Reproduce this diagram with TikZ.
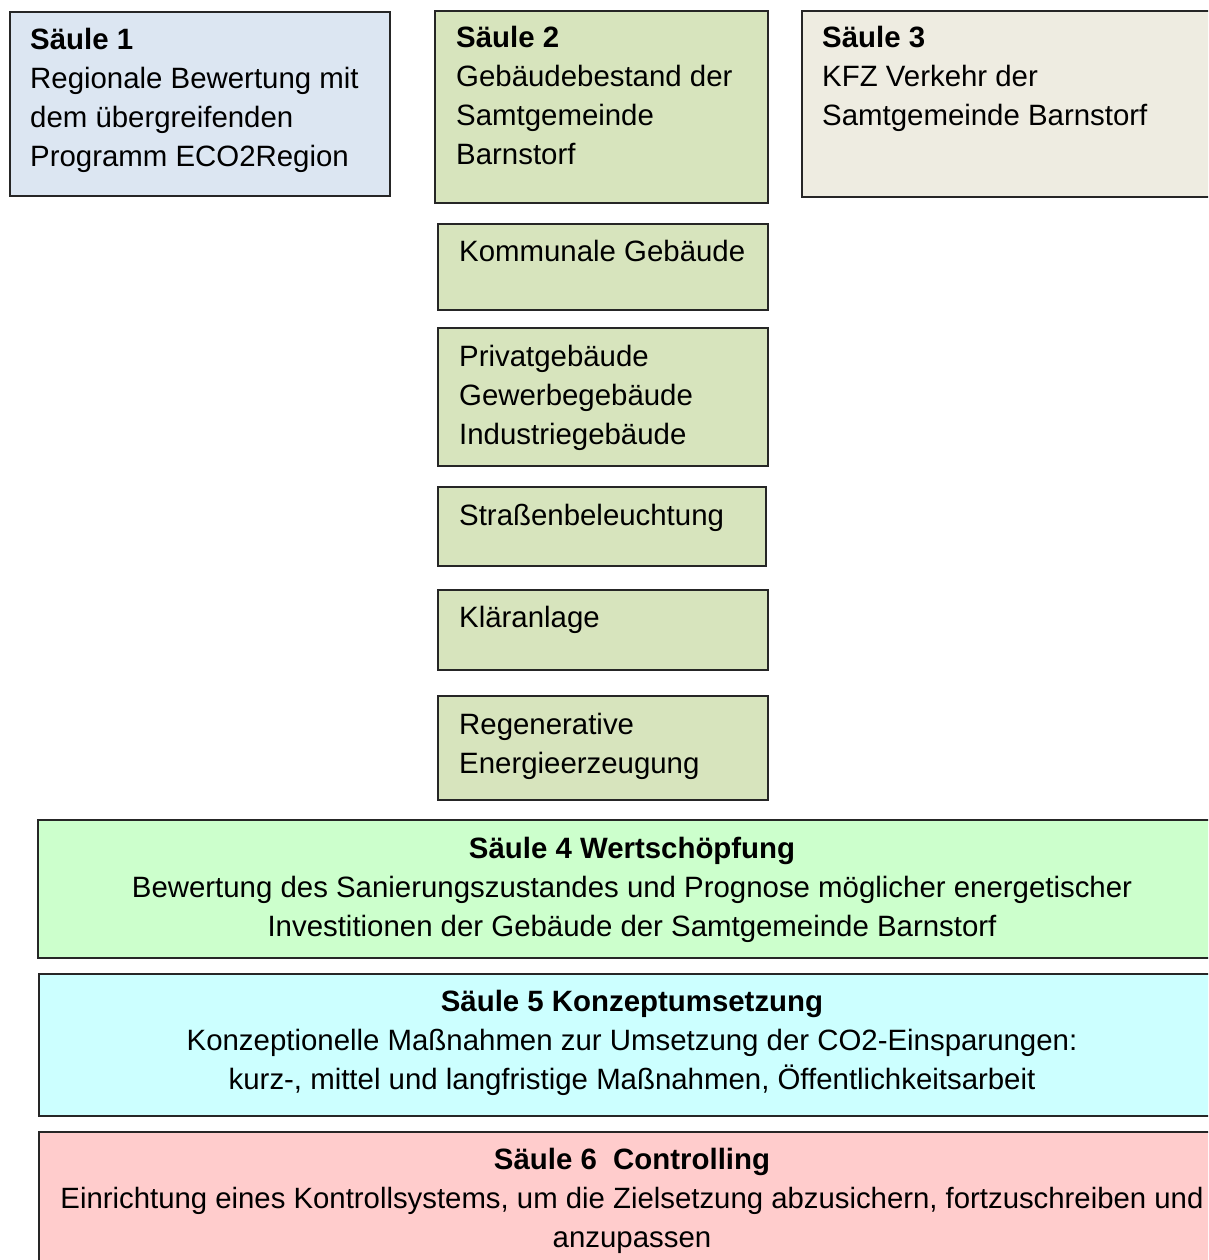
\documentclass[tikz,border=0pt]{standalone}
\usepackage{fontspec}
\setmainfont{Liberation Sans}
\definecolor{cblue}{HTML}{DCE6F2}
\definecolor{colive}{HTML}{D7E4BD}
\definecolor{cbeige}{HTML}{EEECE1}
\definecolor{cgreen}{HTML}{CCFFCC}
\definecolor{ccyan}{HTML}{CCFFFF}
\definecolor{cpink}{HTML}{FFCCCC}
\newcommand\LinesLeft[1]{\vtop{\baselineskip=39pt\lineskiplimit=-100pt\halign{##\hfil\cr#1\crcr}}}
\newcommand\LinesCenter[1]{\vtop{\baselineskip=39pt\lineskiplimit=-100pt\halign{\hfil##\hfil\cr#1\crcr}}}
\tikzset{
  box/.style={draw=black!85, line width=1.6pt, rectangle, inner sep=0pt, outer sep=0pt, anchor=north west},
  txtleft/.style={inner sep=0pt, anchor=base west, font=\fontsize{29.4}{39}\selectfont},
  txtcenter/.style={inner sep=0pt, anchor=base, font=\fontsize{29.4}{39}\selectfont},
}
\begin{document}
\begin{tikzpicture}[x=1pt,y=-1pt]
\useasboundingbox (0,0) rectangle (1208,1260);
\clip (0,0) rectangle (1208,1260);
\fill[white] (0,0) rectangle (1208,1260);
% top row
\node[box, fill=cblue, minimum width=380pt, minimum height=184pt] (b1) at (10,12) {};
\node[box, fill=colive, minimum width=333pt, minimum height=192pt] (b2) at (435,11) {};
\node[box, fill=cbeige, minimum width=430pt, minimum height=186pt] (b3) at (802,11) {};
% column 2 sub-boxes
\node[box, fill=colive, minimum width=330pt, minimum height=86pt] (k1) at (438,224) {};
\node[box, fill=colive, minimum width=330pt, minimum height=138pt] (k2) at (438,328) {};
\node[box, fill=colive, minimum width=328pt, minimum height=79pt] (k3) at (438,487) {};
\node[box, fill=colive, minimum width=330pt, minimum height=80pt] (k4) at (438,590) {};
\node[box, fill=colive, minimum width=330pt, minimum height=104pt] (k5) at (438,696) {};
% wide boxes
\node[box, fill=cgreen, minimum width=1190pt, minimum height=138pt] (s4) at (38,820) {};
\node[box, fill=ccyan, minimum width=1190pt, minimum height=142pt] (s5) at (39,974) {};
\node[box, fill=cpink, minimum width=1190pt, minimum height=160pt] (s6) at (39,1132) {};
% texts
\node[txtleft] (t1) at (30,50) {\LinesLeft{\textbf{Säule 1}\cr Regionale Bewertung mit\cr dem übergreifenden\cr Programm ECO2Region}};
\node[txtleft] (t2) at (456,48) {\LinesLeft{\textbf{Säule 2}\cr Gebäudebestand der\cr Samtgemeinde\cr Barnstorf}};
\node[txtleft] (t3) at (822,48) {\LinesLeft{\textbf{Säule 3}\cr KFZ Verkehr der\cr Samtgemeinde Barnstorf}};
\node[txtleft] (tk1) at (459,261) {Kommunale Gebäude};
\node[txtleft] (tk2) at (459,366) {\LinesLeft{Privatgebäude\cr Gewerbegebäude\cr Industriegebäude}};
\node[txtleft] (tk3) at (459,525) {Straßenbeleuchtung};
\node[txtleft] (tk4) at (459,627) {Kläranlage};
\node[txtleft] (tk5) at (459,734) {\LinesLeft{Regenerative\cr Energieerzeugung}};
\node[txtcenter] (ts4) at (632,858) {\LinesCenter{\textbf{Säule 4 Wertschöpfung}\cr Bewertung des Sanierungszustandes und Prognose möglicher energetischer\cr Investitionen der Gebäude der Samtgemeinde Barnstorf}};
\node[txtcenter] (ts5) at (632,1011) {\LinesCenter{\textbf{Säule 5 Konzeptumsetzung}\cr Konzeptionelle Maßnahmen zur Umsetzung der CO2-Einsparungen:\cr kurz-, mittel und langfristige Maßnahmen, Öffentlichkeitsarbeit}};
\node[txtcenter] (ts6) at (632,1169) {\LinesCenter{\textbf{Säule 6\ \ Controlling}\cr \resizebox{1143pt}{!}{Einrichtung eines Kontrollsystems, um die Zielsetzung abzusichern, fortzuschreiben und}\cr anzupassen}};
\end{tikzpicture}
\end{document}
